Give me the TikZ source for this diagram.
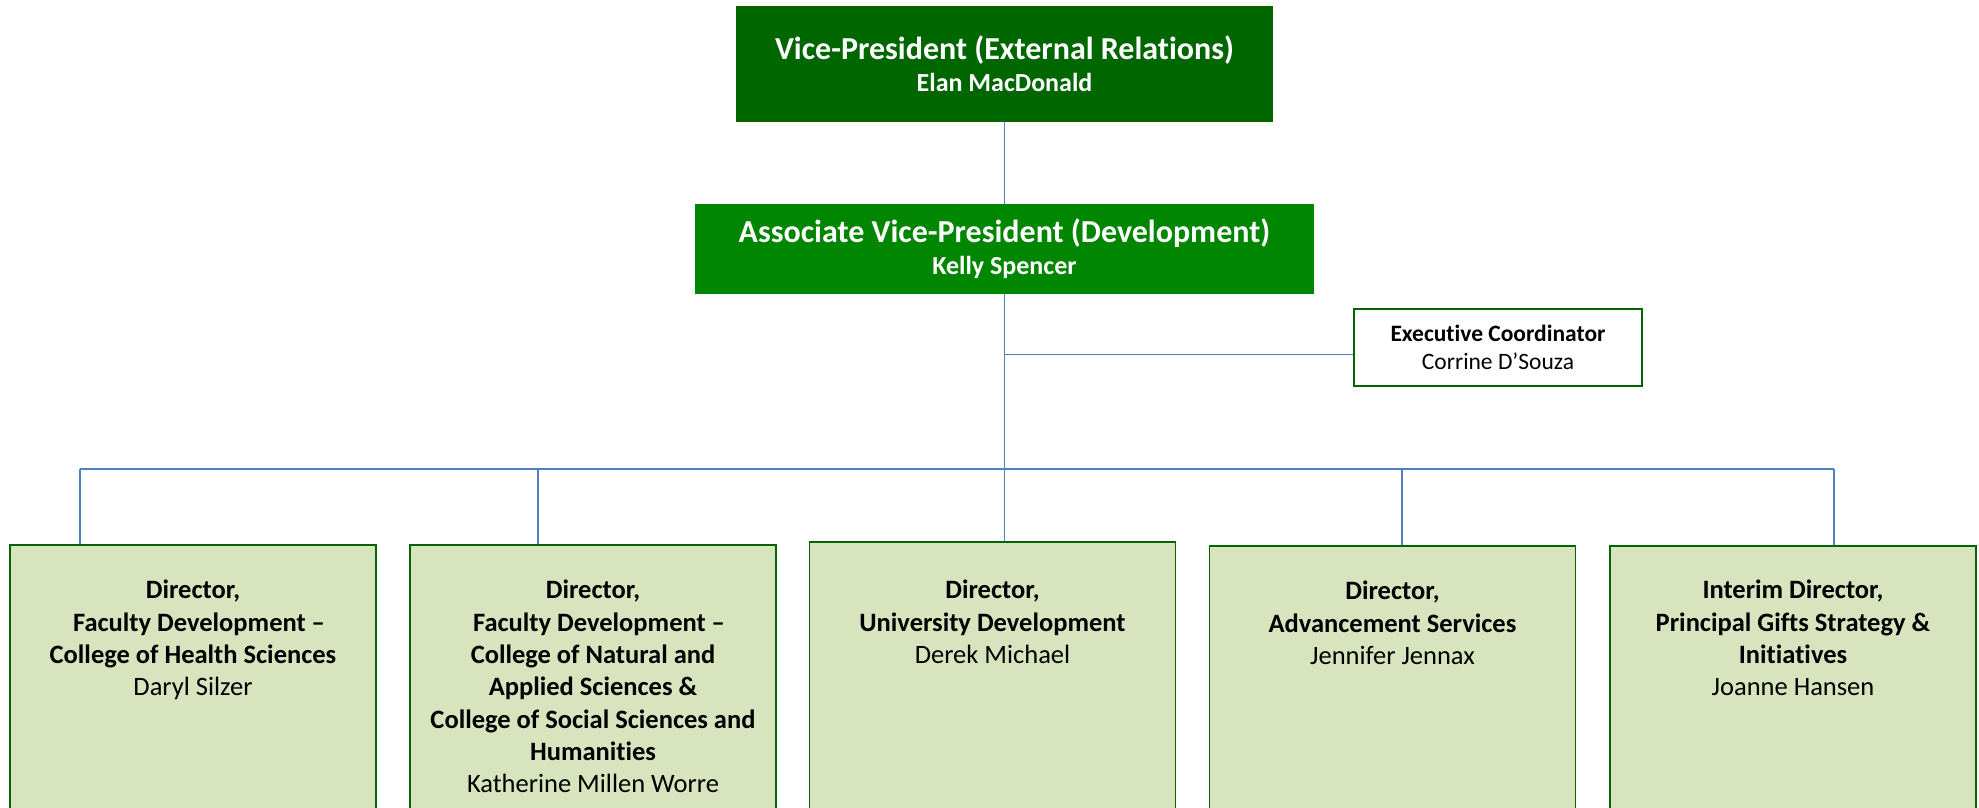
\documentclass[tikz,border=0pt]{standalone}
\usepackage{fontspec}
\setmainfont{Carlito}[Ligatures={TeX,NoCommon}]
\usetikzlibrary{positioning}
\definecolor{vpgreen}{RGB}{0,102,0}
\definecolor{avpgreen}{RGB}{0,134,0}
\definecolor{dirfill}{RGB}{215,228,189}
\definecolor{dirline}{RGB}{0,100,0}
\definecolor{linkblue}{RGB}{79,129,189}

\begin{document}
\begin{tikzpicture}[x=1pt,y=-1pt,
    topbox/.style={rectangle, fill=#1, text=white, align=center, inner sep=0pt,
      font=\bfseries\fontsize{32}{38}\selectfont},
    dirbox/.style={rectangle, draw=dirline, fill=dirfill, line width=1.8pt,
      inner sep=0pt, minimum width=366pt, minimum height=300pt, anchor=north},
    dirtext/.style={align=center, anchor=north, inner sep=0pt,
      font=\bfseries\fontsize{26.5}{32.3}\selectfont},
    link/.style={draw=linkblue, line width=1.5pt}]
    \def\nm#1{{\fontsize{26}{30}\selectfont #1}}
    \useasboundingbox (0,0) rectangle (1979,807);

    % top of the chart
    \node[topbox=vpgreen, minimum width=537pt, minimum height=116pt] (vp) at (1004.5,64)
      {Vice-President (External Relations)\\[-6pt]\nm{Elan MacDonald}};
    \node[topbox=avpgreen, minimum width=619pt, minimum height=90pt] (avp) at (1004.5,249)
      {Associate Vice-President (Development)\\[-6pt]\nm{Kelly Spencer}};
    \node[rectangle, draw=dirline, line width=1.5pt, fill=white, align=center, inner sep=0pt,
      minimum width=288pt, minimum height=77pt, font=\fontsize{23.5}{28}\selectfont] (exec) at (1498,347.5)
      {\textbf{Executive Coordinator}\\Corrine D’Souza};

    % directors
    \node[dirbox] (box1) at (193,544) {};
    \node[dirbox] (box2) at (593,544) {};
    \node[dirbox] (box3) at (992.5,541) {};
    \node[dirbox] (box4) at (1392.5,545) {};
    \node[dirbox] (box5) at (1793,545) {};

    \node[dirtext, below=36pt of box1.north] (txt1)
      {Director,\\\hspace*{12pt}Faculty Development --\\College of Health Sciences\\\textmd{Daryl Silzer}};
    \node[dirtext, below=36pt of box2.north] (txt2)
      {Director,\\\hspace*{12pt}Faculty Development --\\College of Natural and\\Applied Sciences \&\\College of Social Sciences and\\Humanities\\\textmd{Katherine Millen Worre}};
    \node[dirtext, below=39pt of box3.north] (txt3)
      {Director,\\University Development\\\textmd{Derek Michael}};
    \node[dirtext, below=36pt of box4.north] (txt4)
      {Director,\\Advancement Services\\\textmd{Jennifer Jennax}};
    \node[dirtext, below=35pt of box5.north] (txt5)
      {Interim Director,\\Principal Gifts Strategy \&\\Initiatives\\\textmd{Joanne Hansen}};

    % connectors
    \coordinate (drop1) at (80,469);
    \coordinate (drop2) at (538,469);
    \coordinate (drop4) at (1402,469);
    \coordinate (drop5) at (1834,469);
    \draw[link] (vp) -- (avp);
    \draw[link] (avp.south) -- (avp.south |- box3.north);
    \draw[link] ([yshift=-7pt]exec.west) -- ([yshift=-7pt]exec.west -| avp.south);
    \draw[link] (drop1) -- (drop5);
    \draw[link] (drop1) -- (drop1 |- box1.north);
    \draw[link] (drop2) -- (drop2 |- box2.north);
    \draw[link] (drop4) -- (drop4 |- box4.north);
    \draw[link] (drop5) -- (drop5 |- box5.north);
\end{tikzpicture}
\end{document}
